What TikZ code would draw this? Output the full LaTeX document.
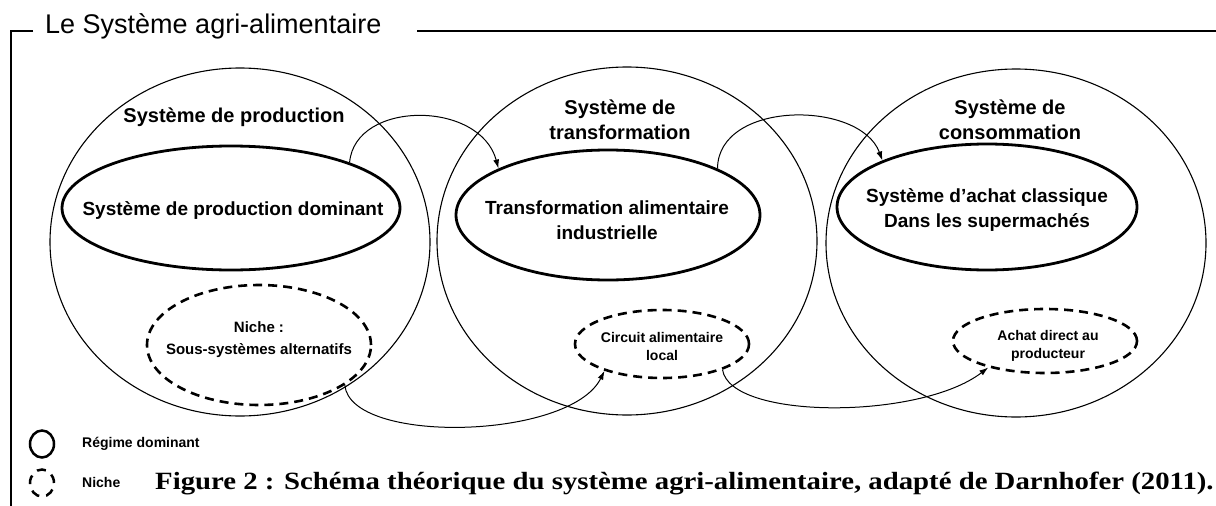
\documentclass[tikz,border=0pt]{standalone}
\usepackage{fontspec}
\setmainfont{Liberation Sans}
\newfontfamily\capfont[FakeStretch=1.16]{Liberation Serif}
\usetikzlibrary{shapes.geometric,arrows.meta}
\begin{document}
\begin{tikzpicture}[x=1pt,y=-1pt,
  bigc/.style={draw, ellipse, line width=1.1pt, inner sep=0pt, minimum width=380pt, minimum height=348pt},
  domell/.style={draw, ellipse, line width=2.8pt, inner sep=0pt},
  nicheell/.style={draw, ellipse, line width=2.6pt, dash pattern=on 9pt off 6pt, inner sep=0pt},
  head/.style={font=\bfseries\fontsize{20}{25}\selectfont, align=center, inner sep=0pt},
  inlbl/.style={font=\bfseries\fontsize{19}{25}\selectfont, align=center, inner sep=0pt},
  nlbl/.style={font=\bfseries\fontsize{14}{18}\selectfont, align=center, inner sep=0pt},
  leg/.style={font=\bfseries\fontsize{14}{17}\selectfont, anchor=west, inner sep=0pt},
  flow/.style={-{Latex[length=9pt,width=6pt]}, line width=1pt},
  frame/.style={line width=1.8pt}
]
\useasboundingbox (0,0) rectangle (1216,506);
\fill[white] (0,0) rectangle (1216,506);

% frame and title
\node (title) [anchor=base west, inner sep=0pt, font=\fontsize{27}{30}\selectfont] at (45,33) {Le Système agri-alimentaire};
\draw[frame] (33,31) -- (11,31) -- (11,506);
\draw[frame] (417,31) -- (1216,31);

% big circles
\node (c1) [bigc] at (240,242) {};
\node (c2) [bigc] at (627,241) {};
\node (c3) [bigc] at (1016,243) {};

% dominant ellipses
\node (e1) [domell, minimum width=338pt, minimum height=124pt] at (231,208) {};
\node (e2) [domell, minimum width=304pt, minimum height=130pt] at (608,215) {};
\node (e3) [domell, minimum width=300pt, minimum height=126pt] at (987,207) {};

% niche ellipses
\node (n1) [nicheell, minimum width=224pt, minimum height=120pt] at (259,345) {};
\node (n2) [nicheell, minimum width=174pt, minimum height=68pt] at (662,344) {};
\node (n3) [nicheell, minimum width=184pt, minimum height=64pt] at (1045,341) {};

% headings
\node (h1) [head] at (234,117) {Système de production};
\node (h2) [head] at (620,120) {Système de\\transformation};
\node (h3) [head] at (1010,120) {Système de\\consommation};

% inner labels
\node (l1) [inlbl] at (233,211) {Système de production dominant};
\node (l2) [inlbl] at (607,220) {Transformation alimentaire\\industrielle};
\node (l3) [inlbl] at (987,210) {Système d'achat classique\\Dans les supermachés};

\node (m1) [nlbl, font=\bfseries\fontsize{15}{22}\selectfont] at (259,340) {Niche :\\Sous-systèmes alternatifs};
\node (m2) [nlbl] at (662,346) {Circuit alimentaire\\local};
\node (m3) [nlbl] at (1048,346) {Achat direct au\\producteur};

% connectors
\draw[flow] (e1.21) .. controls (355,100) and (480,100) .. (e2.157);
\draw[flow] (e2.23) .. controls (718,100) and (860,100) .. (e3.156);
\draw[flow] (n1.-25) .. controls (350,445) and (570,440) .. (n2.-155);
\draw[flow] (n2.-23) .. controls (730,420) and (920,420) .. (n3.-155);

% legend
\node (lg1) [draw, ellipse, line width=2.5pt, minimum width=24pt, minimum height=27pt, inner sep=0pt] at (42,444) {};
\node (lt1) [leg] at (82,444) {Régime dominant};
\node (lg2) [draw, ellipse, line width=2.5pt, dash pattern=on 9pt off 7pt, minimum width=24pt, minimum height=27pt, inner sep=0pt] at (42,483) {};
\node (lt2) [leg] at (82,482) {Niche};

% caption
\node (cap) [anchor=west, inner sep=0pt, font=\capfont\bfseries\fontsize{24.8}{28}\selectfont] at (155,484) {Figure 2 : Schéma théorique du système agri-alimentaire, adapté de Darnhofer (2011).};
\end{tikzpicture}
\end{document}
